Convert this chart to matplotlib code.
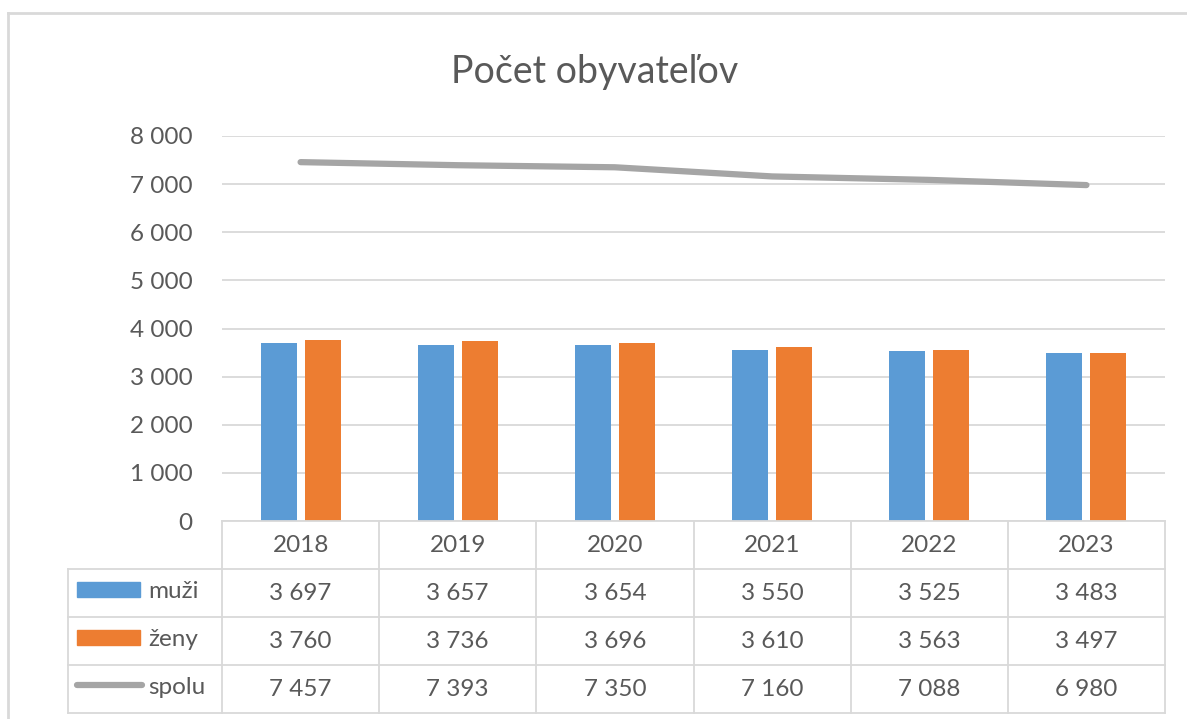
import numpy as np
import matplotlib.pyplot as plt
from matplotlib.lines import Line2D
from matplotlib.patches import Rectangle
from matplotlib.ticker import FuncFormatter

years = ['2018', '2019', '2020', '2021', '2022', '2023']
muzi = [3697, 3657, 3654, 3550, 3525, 3483]
zeny = [3760, 3736, 3696, 3610, 3563, 3497]
spolu = [7457, 7393, 7350, 7160, 7088, 6980]
series_names = ['muži', 'ženy', 'spolu']

BLUE = '#5b9bd5'
ORANGE = '#ed7d31'
GREY = '#a5a5a5'
TEXT = '#595959'
LINE = '#d9d9d9'

W, H = 1187, 719
plt.rcParams['font.family'] = ['Lato', 'DejaVu Sans']
FS = 17.5

def fmt(v):
    return f'{int(v):,}'.replace(',', ' ')

fig = plt.figure(figsize=(W / 100, H / 100), dpi=100)

def px(x0, y0, x1, y1):
    # pixel box (left, top, right, bottom) -> figure fraction rect
    return [x0 / W, 1 - y1 / H, (x1 - x0) / W, (y1 - y0) / H]

# outer chart frame
fig.add_artist(Line2D([8 / W, 1.0], [1 - 13 / H, 1 - 13 / H], color=LINE, lw=2))
fig.add_artist(Line2D([8 / W, 8 / W], [0, 1 - 13 / H], color=LINE, lw=2))

fig.text(595 / W, 1 - 72 / H, 'Počet obyvateľov', ha='center', va='center',
         fontsize=27, color=TEXT)

# main plot area
ax = fig.add_axes(px(222, 136, 1165, 521))
x = np.arange(len(years))
bw = 0.23
ax.bar(x - bw / 2 - 0.025, muzi, width=bw, color=BLUE, zorder=3)
ax.bar(x + bw / 2 + 0.025, zeny, width=bw, color=ORANGE, zorder=3)
ax.plot(x, spolu, color=GREY, lw=4.5, solid_capstyle='round', zorder=4)
ax.set_xlim(-0.5, 5.5)
ax.set_ylim(0, 8000)
ax.set_yticks(range(0, 8001, 1000))
ax.yaxis.set_major_formatter(FuncFormatter(lambda v, p: fmt(v)))
ax.grid(axis='y', color=LINE, lw=1.3, zorder=0)
ax.set_xticks([])
for s in ax.spines.values():
    s.set_visible(False)
ax.tick_params(axis='y', length=0, pad=21, labelsize=FS, labelcolor=TEXT)

# data table below the plot
tx0, tx1 = 68, 1165
tab = fig.add_axes(px(tx0, 521, tx1, 713))
col_w = (1165 - 222) / len(years)
left = -0.5 - (222 - tx0) / col_w
tab.set_xlim(left, 5.5)
tab.set_ylim(4, 0)
tab.axis('off')

lk = dict(color=LINE, lw=1.3, clip_on=False)
for i in range(len(years) + 1):
    tab.plot([i - 0.5, i - 0.5], [0, 4], **lk)
tab.plot([left, left], [1, 4], **lk)
tab.plot([-0.5, 5.5], [0, 0], **lk)
for r in range(1, 5):
    tab.plot([left, 5.5], [r, r], **lk)

tk = dict(ha='center', va='center', fontsize=FS, color=TEXT)
for i, yr in enumerate(years):
    tab.text(i, 0.5, yr, **tk)
for r, vals in enumerate([muzi, zeny, spolu], start=1):
    for i, v in enumerate(vals):
        tab.text(i, r + 0.5, fmt(v), **tk)

# legend keys in the table
kx0 = left + 9 / col_w
kx1 = left + 72 / col_w
for r, c in zip([1, 2], [BLUE, ORANGE]):
    tab.add_patch(Rectangle((kx0, r + 0.28), kx1 - kx0, 0.3, color=c, clip_on=False))
tab.plot([kx0, kx1 + 2 / col_w], [3.42, 3.42], color=GREY, lw=4.5,
         solid_capstyle='round', clip_on=False)
for r, name in enumerate(series_names, start=1):
    tab.text(left + 80 / col_w, r + 0.47, name, ha='left', va='center',
             fontsize=FS, color=TEXT)

fig.savefig('out.png', dpi=100)
